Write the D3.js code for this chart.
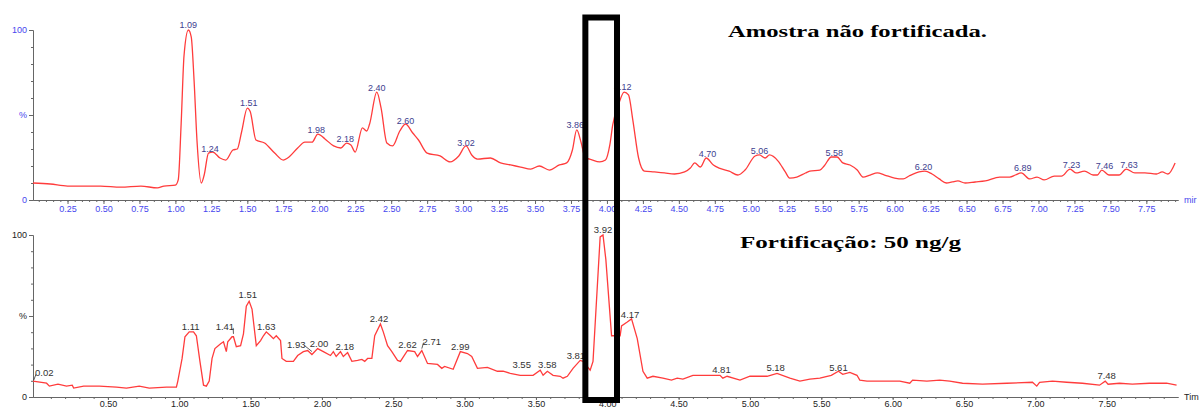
<!DOCTYPE html>
<html>
<head>
<meta charset="utf-8">
<script src="https://cdn.jsdelivr.net/npm/d3@7"></script>
<style>
  body { margin: 0; background: #fff; }
  svg { display: block; }
  .trace { fill: none; stroke: #ff3c3c; stroke-width: 1.3; }
</style>
</head>
<body>
<div id="chart"></div>
<script>
var width = 1203,
    height = 410;

// upper chromatogram : [time (min), intensity (%)]
const topTrace = [
  [0.01,10],[0.13,9.4],[0.25,8.2],[0.48,8.2],[0.62,7.6],[0.76,8.2],[0.875,7.1],[0.92,8.2],[1.0,8.8],
  [1.02,12],[1.04,45],[1.06,85],[1.09,100],[1.11,96],[1.13,70],[1.15,35],[1.18,10],[1.2,14.7],
  [1.23,27.6],[1.26,28.2],[1.31,24.7],[1.35,23.5],[1.40,29.4],[1.43,30],[1.46,40],[1.50,54],[1.52,52],
  [1.56,35.3],[1.62,33.5],[1.69,27.6],[1.75,23.5],[1.78,24.7],[1.85,30.6],[1.90,34],[1.95,34],[1.99,38.8],
  [2.04,35.9],[2.10,31.8],[2.15,30.6],[2.19,33.5],[2.22,32.4],[2.25,28.2],[2.30,42.4],[2.33,40.6],[2.35,44.7],
  [2.40,63.5],[2.43,54],[2.47,33.5],[2.51,31.8],[2.56,40.6],[2.60,44.7],[2.65,39.4],[2.69,35.3],[2.75,27.6],
  [2.84,25.9],[2.91,22.4],[2.97,25.9],[3.02,31.8],[3.06,26.5],[3.10,24.1],[3.19,24.7],[3.26,21.8],[3.33,20.6],
  [3.40,19.4],[3.47,18.2],[3.53,20],[3.60,17.6],[3.67,20.6],[3.72,21.8],[3.76,29.4],[3.79,41.2],[3.82,34],
  [3.85,24.7],[3.88,24.1],[3.95,22.4],[3.99,23.5],[4.02,32.4],[4.04,44],[4.08,56],[4.12,63.5],[4.15,61.8],
  [4.18,47],[4.22,24.7],[4.26,17],[4.33,16.5],[4.40,15.9],[4.47,15.3],[4.54,16.5],[4.58,18.8],[4.61,21.8],
  [4.65,19.4],[4.69,24.7],[4.74,20.6],[4.78,18.8],[4.85,17],[4.91,14.7],[4.96,17.6],[5.03,25.9],[5.06,26.5],
  [5.10,24.7],[5.13,26.5],[5.19,22.9],[5.24,16.5],[5.27,12.9],[5.32,13.5],[5.38,15.9],[5.41,17],[5.48,17.6],
  [5.51,20],[5.56,25.3],[5.60,25.3],[5.64,21.8],[5.69,20.6],[5.74,17.6],[5.78,13.5],[5.83,14.7],[5.88,15.9],
  [5.93,14.7],[6.00,12.9],[6.06,12.4],[6.10,14.1],[6.17,16.5],[6.21,17],[6.26,15.3],[6.31,12.4],[6.36,10],
  [6.40,10.6],[6.44,11.2],[6.49,10],[6.56,10.6],[6.63,11.2],[6.73,13.5],[6.80,13.5],[6.84,14.7],[6.88,15.9],
  [6.94,12.4],[6.99,13.5],[7.04,11.8],[7.11,14.1],[7.16,14.1],[7.22,18.2],[7.26,15.9],[7.32,17],[7.38,14.7],
  [7.41,14.7],[7.44,17.6],[7.49,14.7],[7.56,14.7],[7.61,18.2],[7.67,15.9],[7.74,15.9],[7.82,15.3],[7.86,16.5],
  [7.90,15.3],[7.95,21.8]
];

// lower chromatogram (fortified sample)
const botTrace = [
  [-0.025,9.8],[0.07,8.5],[0.09,6.7],[0.15,7.9],[0.21,6.7],[0.25,7.3],[0.26,5.5],[0.33,6.7],[0.44,6.7],
  [0.56,6.1],[0.63,5.5],[0.72,6.7],[0.79,5.5],[0.91,6.1],[0.98,6.1],[0.99,9.8],[1.02,23.8],[1.04,37.2],
  [1.07,40.2],[1.10,40.2],[1.12,37.8],[1.145,22],[1.17,7.3],[1.19,6.7],[1.21,9.8],[1.23,23.8],[1.25,29.9],
  [1.29,32.9],[1.31,34.1],[1.33,28],[1.34,34.1],[1.37,37.2],[1.38,37.2],[1.40,31.1],[1.43,31.7],[1.45,39],
  [1.47,56.1],[1.49,59.1],[1.51,54.3],[1.54,31.7],[1.57,34.8],[1.59,37.8],[1.61,40.2],[1.64,37.8],[1.66,36],
  [1.68,37.8],[1.71,34.8],[1.72,23.8],[1.75,22],[1.80,22],[1.83,25.6],[1.87,28],[1.90,28.7],[1.93,26.2],
  [1.97,29.9],[2.01,28],[2.06,25.6],[2.08,28],[2.10,25],[2.13,28],[2.15,25],[2.18,27.4],[2.21,22],
  [2.25,22.6],[2.28,23.2],[2.30,22],[2.32,23.8],[2.35,23.8],[2.37,37.8],[2.41,45.1],[2.43,40.2],[2.46,31.7],
  [2.49,28],[2.53,22.6],[2.55,22],[2.60,28.7],[2.65,28],[2.67,25],[2.70,28.7],[2.74,20.7],[2.81,20.1],
  [2.84,17.7],[2.86,18.9],[2.92,17.1],[2.97,28],[3.02,26.8],[3.05,25],[3.09,17.7],[3.16,18.3],[3.23,15.9],
  [3.27,15.9],[3.32,14.6],[3.39,13.4],[3.44,13.4],[3.48,13.4],[3.53,16.5],[3.55,13.4],[3.58,15.9],[3.62,13.4],
  [3.67,12.8],[3.69,11.6],[3.72,12.8],[3.76,17.7],[3.81,22.6],[3.83,22],[3.88,16.5],[3.90,22],[3.95,98.8],
  [3.97,100],[3.99,84.8],[4.03,37.8],[4.09,37.8],[4.10,43.9],[4.14,46.3],[4.17,48.2],[4.21,36],[4.25,15.9],
  [4.28,11.6],[4.32,12.8],[4.39,11.6],[4.45,10.4],[4.49,11.6],[4.53,11],[4.60,13.4],[4.70,13.4],[4.79,13.4],
  [4.81,11.6],[4.84,12.8],[4.93,10.4],[5.00,12.8],[5.12,12.8],[5.19,14.6],[5.28,11.6],[5.35,9.8],[5.42,11],
  [5.49,11.6],[5.57,13.4],[5.62,15.9],[5.65,14],[5.70,15.2],[5.75,13.4],[5.77,10.4],[5.82,9.8],[5.93,9.8],
  [6.05,9.8],[6.12,8.5],[6.14,10.4],[6.24,9.8],[6.33,10.4],[6.40,9.8],[6.49,8.5],[6.63,7.9],[6.80,8.5],
  [6.98,9.1],[7.01,6.7],[7.03,9.1],[7.12,9.8],[7.22,9.1],[7.33,8.5],[7.45,7.3],[7.49,9.8],[7.51,7.9],
  [7.59,8.5],[7.68,7.9],[7.80,8.5],[7.92,8.5],[7.99,7.3]
];

// peak labels: text, time where it sits, height (%)
const topLabels = ["1.09","1.24","1.51","1.98","2.18","2.40","2.60","3.02","3.86","4.12","4.70","5.06","5.58","6.20","6.89","7.23","7.46","7.63"];
const topLabelAt = [1.09,1.24,1.51,1.98,2.18,2.40,2.60,3.02,3.78,4.11,4.70,5.06,5.58,6.20,6.89,7.23,7.46,7.63];
const topLabelPct = [100,27,54,38,33,63,43.5,30.6,41,63.5,24,26,24.7,16.5,15.9,17.6,17,17.6];

const botLabels = ["0.02","1.11","1.41","1.51","1.63","1.93","2.00","2.18","2.42","2.62","2.71","2.99","3.55","3.58","3.81","3.92","4.17","4.81","5.18","5.61","7.48"];
const botLabelAt = [0.02,1.08,1.32,1.48,1.61,1.82,1.98,2.16,2.40,2.60,2.77,2.97,3.40,3.58,3.78,3.97,4.16,4.80,5.18,5.62,7.50];
const botLabelPct = [11.6,40.2,40.2,59.8,40.2,29.3,29.9,28,45.1,29.3,31.1,28,16.5,16.5,22,100,47.6,13.4,14.6,14.6,9.8];

// labels that get a small leader line, and the time the leader points to
const leaderLabels = ["0.02","1.41","1.93","2.71"];
const leaderTimes = [-0.02,1.38,1.93,2.70];

const titleTop = "Amostra não fortificada.";
const titleBot = "Fortificação: 50 ng/g";

// highlighted window (min, on upper time axis)
const boxStart = 3.85, boxEnd = 4.07;

var svg = d3.select("#chart").append("svg")
    .attr("width", width)
    .attr("height", height);

// scales
var xTop = d3.scaleLinear().domain([0.01, 7.97]).range([33, 1178]),
    yTop = d3.scaleLinear().domain([0, 100]).range([200, 30]),
    xBot = d3.scaleLinear().domain([-0.025, 8.0]).range([33, 1178]),
    yBot = d3.scaleLinear().domain([0, 100]).range([397, 235]);

var fmt = d3.format(".2f");

function styleAxis(g, color, size) {
    g.attr("font-family", "'Liberation Sans', Arial, sans-serif").attr("font-size", size);
    g.selectAll("path, line").attr("stroke", "#666");
    g.selectAll("text").attr("fill", color);
}

// draw one panel: axes, trace, labels
function drawPanel(x, y, trace, opts) {
    var g = svg.append("g");

    // minor x ticks
    g.append("g")
        .attr("transform", "translate(0," + y(0) + ")")
        .call(d3.axisBottom(x).tickValues(opts.minor).tickSize(2).tickSizeOuter(0).tickFormat(""))
        .call(styleAxis, opts.tickColor, opts.tickSize);
    // major x ticks
    g.append("g")
        .attr("transform", "translate(0," + y(0) + ")")
        .call(d3.axisBottom(x).tickValues(opts.major).tickSize(opts.majorLen).tickSizeOuter(0).tickPadding(opts.pad).tickFormat(fmt))
        .call(styleAxis, opts.tickColor, opts.tickSize);

    // y axis
    g.append("g")
        .attr("transform", "translate(" + x.range()[0] + ",0)")
        .call(d3.axisLeft(y).tickValues(d3.range(0, 101, 10)).tickSize(2).tickSizeOuter(0).tickFormat(""))
        .call(styleAxis, opts.tickColor, opts.tickSize);
    g.append("g")
        .attr("transform", "translate(" + x.range()[0] + ",0)")
        .call(d3.axisLeft(y).tickValues([0, 50, 100]).tickSize(4).tickSizeOuter(0).tickPadding(2)
              .tickFormat(function(d) { return d === 50 ? "%" : d; }))
        .call(styleAxis, opts.tickColor, opts.tickSize);

    // unit at the end of the time axis
    g.append("text")
        .attr("x", x.range()[1] + 6)
        .attr("y", y(0) + 3)
        .attr("font-family", "'Liberation Sans', Arial, sans-serif")
        .attr("font-size", opts.tickSize)
        .attr("fill", opts.tickColor)
        .text(opts.unit);

    var line = d3.line()
        .x(function(d) { return x(d[0]); })
        .y(function(d) { return y(d[1]); })
        .curve(opts.curve);

    g.append("path")
        .datum(trace)
        .attr("class", "trace")
        .attr("stroke-width", opts.lineWidth)
        .attr("d", line);

    // peak labels
    var labels = g.selectAll(".peak")
        .data(opts.labels)
        .enter().append("text")
        .attr("class", "peak")
        .attr("x", function(d, i) { return x(opts.at[i]); })
        .attr("y", function(d, i) { return y(opts.pct[i]) - 2; })
        .attr("text-anchor", "middle")
        .attr("font-family", "'Liberation Sans', Arial, sans-serif")
        .attr("font-size", opts.labelSize)
        .attr("fill", opts.labelColor)
        .text(function(d) { return d; });

    // keep labels right of the y axis
    labels.each(function() {
        var w = this.getComputedTextLength();
        var cx = +this.getAttribute("x");
        if (cx - w / 2 < x.range()[0] + 2) this.setAttribute("x", x.range()[0] + 2 + w / 2);
    });

    // leader lines
    if (opts.leaders) {
        labels.each(function(d, i) {
            var k = opts.leaders.indexOf(d);
            if (k < 0) return;
            var w = this.getComputedTextLength();
            var cx = +this.getAttribute("x"),
                by = +this.getAttribute("y");
            var tx = x(opts.leaderAt[k]);
            var sx = tx > cx ? cx + w / 2 - 1 : cx - w / 2 + 1;
            g.append("line")
                .attr("x1", sx).attr("y1", by - 2)
                .attr("x2", tx).attr("y2", by + 4)
                .attr("stroke", opts.labelColor)
                .attr("stroke-width", 0.8);
        });
    }
}

drawPanel(xTop, yTop, topTrace, {
    minor: d3.range(1, 160).map(function(i) { return i * 0.05; }),
    major: d3.range(1, 32).map(function(i) { return i * 0.25; }),
    majorLen: 4,
    pad: 2,
    tickColor: "#4646ee",
    tickSize: 9,
    unit: "mir",
    curve: d3.curveMonotoneX,
    lineWidth: 1.3,
    labels: topLabels,
    at: topLabelAt,
    pct: topLabelPct,
    labelSize: 9,
    labelColor: "#40408f"
});

drawPanel(xBot, yBot, botTrace, {
    minor: d3.range(1, 80).map(function(i) { return i * 0.1; }),
    major: d3.range(1, 16).map(function(i) { return i * 0.5; }),
    majorLen: 3,
    pad: 1,
    tickColor: "#222",
    tickSize: 9,
    unit: "Tim",
    curve: d3.curveLinear,
    lineWidth: 1.1,
    labels: botLabels,
    at: botLabelAt,
    pct: botLabelPct,
    labelSize: 9.5,
    labelColor: "#333",
    leaders: leaderLabels,
    leaderAt: leaderTimes
});

// titles
svg.append("text")
    .attr("x", 728).attr("y", 37)
    .attr("font-family", "'Liberation Serif', 'Times New Roman', serif")
    .attr("font-weight", "bold")
    .attr("font-size", 17)
    .attr("textLength", 259)
    .attr("lengthAdjust", "spacingAndGlyphs")
    .text(titleTop);

svg.append("text")
    .attr("x", 740).attr("y", 248)
    .attr("font-family", "'Liberation Serif', 'Times New Roman', serif")
    .attr("font-weight", "bold")
    .attr("font-size", 17)
    .attr("textLength", 221)
    .attr("lengthAdjust", "spacingAndGlyphs")
    .text(titleBot);

// highlight box across both panels
svg.append("rect")
    .attr("x", xTop(boxStart))
    .attr("y", 17.5)
    .attr("width", xTop(boxEnd) - xTop(boxStart))
    .attr("height", yBot(0) + 3 - 17.5)
    .attr("fill", "none")
    .attr("stroke", "#000")
    .attr("stroke-width", 6);
</script>
</body>
</html>
